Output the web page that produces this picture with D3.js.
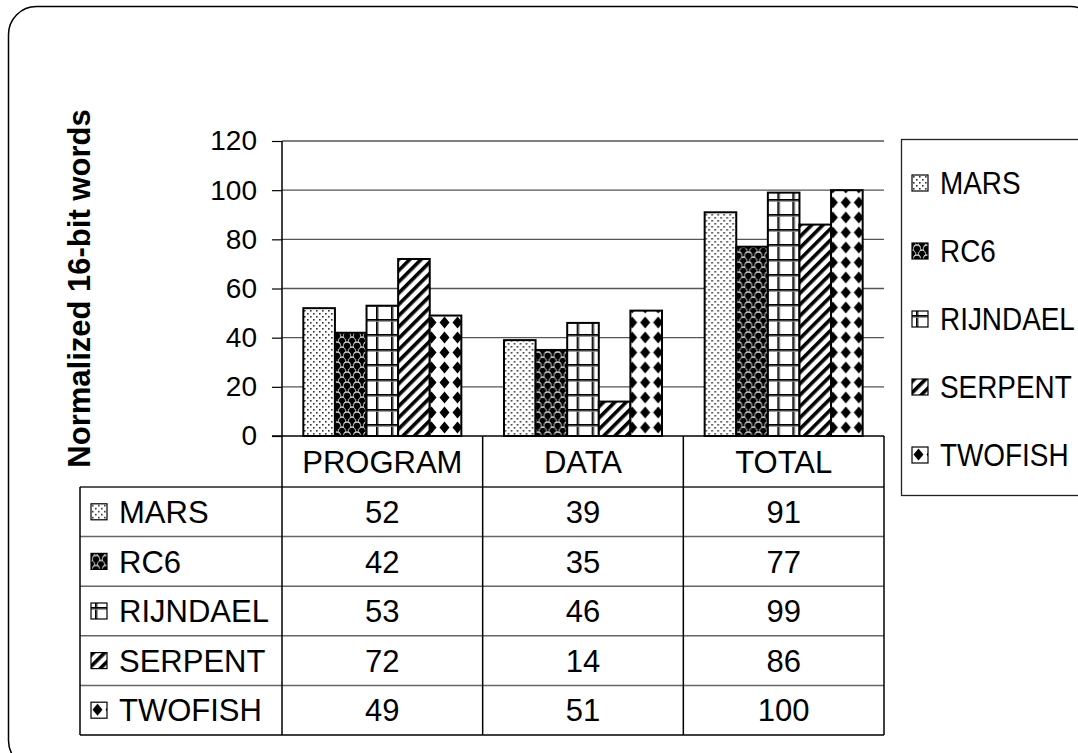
<!DOCTYPE html>
<html>
<head>
<meta charset="utf-8">
<script src="https://cdn.jsdelivr.net/npm/d3@7"></script>
<style>
  html, body { margin: 0; padding: 0; background: #fff; }
  svg { display: block; font-family: "Liberation Sans", Arial, sans-serif; }
</style>
</head>
<body>
<svg id="chart" width="1078" height="753"></svg>
<script>
// ---- data ----
const categories = ["PROGRAM", "DATA", "TOTAL"];
const seriesNames = ["MARS", "RC6", "RIJNDAEL", "SERPENT", "TWOFISH"];
const marsValues = [52, 39, 91];
const rc6Values = [42, 35, 77];
const rijndaelValues = [53, 46, 99];
const serpentValues = [72, 14, 86];
const twofishValues = [49, 51, 100];
const yTicks = [0, 20, 40, 60, 80, 100, 120];
const yTitle = "Normalized 16-bit words";

const seriesValues = [marsValues, rc6Values, rijndaelValues, serpentValues, twofishValues];
const patternIds = ["pMars", "pRc6", "pRij", "pSerp", "pTwo"];

const svg = d3.select("#chart");

// ---- patterns ----
const defs = svg.append("defs");
// MARS: fine dots
{
  const p = defs.append("pattern").attr("id", "pMars").attr("patternUnits", "userSpaceOnUse")
    .attr("width", 6).attr("height", 6);
  p.append("rect").attr("width", 6).attr("height", 6).attr("fill", "#fff");
  p.append("rect").attr("x", 1).attr("y", 1).attr("width", 1.6).attr("height", 1.6).attr("fill", "#333");
  p.append("rect").attr("x", 4).attr("y", 4).attr("width", 1.6).attr("height", 1.6).attr("fill", "#333");
}
// RC6: dark balls
{
  const p = defs.append("pattern").attr("id", "pRc6").attr("patternUnits", "userSpaceOnUse")
    .attr("width", 10).attr("height", 10);
  p.append("rect").attr("width", 10).attr("height", 10).attr("fill", "#111");
  [[0, 0], [10, 0], [0, 10], [10, 10], [5, 5]].forEach(([cx, cy]) => {
    p.append("circle").attr("cx", cx).attr("cy", cy).attr("r", 3.8).attr("fill", "#ccc");
    p.append("circle").attr("cx", cx).attr("cy", cy + 0.9).attr("r", 3.1).attr("fill", "#000");
  });
}
// RIJNDAEL: grid
{
  const p = defs.append("pattern").attr("id", "pRij").attr("patternUnits", "userSpaceOnUse")
    .attr("width", 15).attr("height", 15);
  p.append("rect").attr("width", 15).attr("height", 15).attr("fill", "#fff");
  p.append("rect").attr("x", 4).attr("y", 0).attr("width", 1.8).attr("height", 15).attr("fill", "#000");
  p.append("rect").attr("x", 5.8).attr("y", 0).attr("width", 1).attr("height", 15).attr("fill", "#888");
  p.append("rect").attr("x", 0).attr("y", 4).attr("width", 15).attr("height", 1.8).attr("fill", "#000");
  p.append("rect").attr("x", 0).attr("y", 5.8).attr("width", 15).attr("height", 1).attr("fill", "#888");
}
// SERPENT: diagonal stripes
{
  const p = defs.append("pattern").attr("id", "pSerp").attr("patternUnits", "userSpaceOnUse")
    .attr("width", 8).attr("height", 8).attr("patternTransform", "rotate(45)");
  p.append("rect").attr("width", 8).attr("height", 8).attr("fill", "#fff");
  p.append("rect").attr("x", 0).attr("width", 3.6).attr("height", 8).attr("fill", "#000");
}
// TWOFISH: diamonds
{
  const p = defs.append("pattern").attr("id", "pTwo").attr("patternUnits", "userSpaceOnUse")
    .attr("width", 13).attr("height", 15);
  p.append("rect").attr("width", 13).attr("height", 15).attr("fill", "#fff");
  p.append("path").attr("d", "M6.5,1.5 L11.5,7.5 L6.5,13.5 L1.5,7.5 Z").attr("fill", "#000");
}

// ---- outer rounded frame ----
svg.append("rect").attr("x", 8.5).attr("y", 6.5).attr("width", 1090).attr("height", 762)
  .attr("rx", 28).attr("ry", 28).attr("fill", "none").attr("stroke", "#000").attr("stroke-width", 1.5);

// ---- scales ----
const plotLeft = 282, plotRight = 884, plotTop = 141, plotBottom = 436;
const x0 = d3.scaleBand().domain(categories).range([plotLeft, plotRight]).paddingInner(0).paddingOuter(0);
const x1 = d3.scaleBand().domain(seriesNames).range([0, x0.bandwidth()]).paddingInner(0).paddingOuter(0.675);
const y = d3.scaleLinear().domain([0, 120]).range([plotBottom, plotTop]);

// gridlines
svg.append("g").selectAll("line").data(yTicks.filter(t => t > 0)).join("line")
  .attr("x1", plotLeft).attr("x2", plotRight)
  .attr("y1", d => y(d)).attr("y2", d => y(d))
  .attr("stroke", "#555").attr("stroke-width", 1.3);

// bars
const groups = svg.append("g").selectAll("g").data(categories).join("g")
  .attr("transform", c => `translate(${x0(c)},0)`);
groups.selectAll("rect")
  .data((c, ci) => seriesNames.map((s, si) => ({ s, si, v: seriesValues[si][ci] })))
  .join("rect")
  .attr("x", d => x1(d.s))
  .attr("y", d => y(d.v))
  .attr("width", x1.bandwidth())
  .attr("height", d => y(0) - y(d.v))
  .attr("fill", d => `url(#${patternIds[d.si]})`)
  .attr("stroke", "#000").attr("stroke-width", 2);

// y axis
const yAxis = svg.append("g").attr("transform", `translate(${plotLeft},0)`)
  .call(d3.axisLeft(y).tickValues(yTicks).tickSize(10).tickPadding(15).tickFormat(d3.format("d")));
yAxis.select(".domain").remove();
yAxis.selectAll(".tick line").attr("stroke", "#000").attr("stroke-width", 1.2);
yAxis.selectAll(".tick text").attr("font-size", 28).attr("fill", "#000")
  .attr("font-family", "'Liberation Sans', Arial, sans-serif");

// y axis title
svg.append("text")
  .attr("transform", `translate(90,${(plotTop + plotBottom) / 2}) rotate(-90)`)
  .attr("text-anchor", "middle")
  .attr("font-size", 31).attr("font-weight", "bold").attr("fill", "#000")
  .text(yTitle);

// ---- data table ----
const tableLeft = 80, headerBottom = 487, rowH = 49.6, tableBottom = headerBottom + rowH * seriesNames.length;
const tbl = svg.append("g");
tbl.selectAll("line.row").data(d3.range(seriesNames.length)).join("line")
  .attr("class", "row")
  .attr("x1", tableLeft).attr("x2", plotRight)
  .attr("y1", i => headerBottom + i * rowH).attr("y2", i => headerBottom + i * rowH)
  .attr("stroke", i => i === 0 ? "#222" : "#666").attr("stroke-width", 1.5);
tbl.append("line").attr("x1", tableLeft).attr("x2", plotRight).attr("y1", tableBottom).attr("y2", tableBottom)
  .attr("stroke", "#000").attr("stroke-width", 1.5);
tbl.append("line").attr("x1", tableLeft).attr("x2", tableLeft).attr("y1", headerBottom).attr("y2", tableBottom)
  .attr("stroke", "#000").attr("stroke-width", 1.5);
const vx = [plotLeft, ...categories.map(c => x0(c) + x0.bandwidth())];
tbl.selectAll("line.col").data(vx).join("line").attr("class", "col")
  .attr("x1", d => d).attr("x2", d => d)
  .attr("y1", (d, i) => i === 0 ? plotTop : plotBottom).attr("y2", tableBottom)
  .attr("stroke", "#000").attr("stroke-width", 1.5);
svg.append("line").attr("x1", plotLeft - 10).attr("x2", plotRight).attr("y1", plotBottom).attr("y2", plotBottom)
  .attr("stroke", "#000").attr("stroke-width", 1.5);
tbl.selectAll("text.hdr").data(categories).join("text").attr("class", "hdr")
  .attr("x", c => x0(c) + x0.bandwidth() / 2).attr("y", (plotBottom + headerBottom) / 2)
  .attr("dy", "0.36em").attr("text-anchor", "middle").attr("font-size", 31).attr("fill", "#000")
  .text(c => c);
seriesNames.forEach((s, si) => {
  const cy = headerBottom + si * rowH + rowH / 2;
  const g = tbl.append("g").attr("transform", `translate(91,${cy - 8})`);
  g.append("rect").attr("width", 16).attr("height", 16)
    .attr("fill", `url(#${patternIds[si]})`).attr("stroke", "#000").attr("stroke-width", 1.2);
  tbl.append("text").attr("x", 119).attr("y", cy).attr("dy", "0.36em")
    .attr("font-size", 31).attr("fill", "#000").text(s);
  categories.forEach((c, ci) => {
    tbl.append("text").attr("x", x0(c) + x0.bandwidth() / 2).attr("y", cy).attr("dy", "0.36em")
      .attr("text-anchor", "middle").attr("font-size", 31).attr("fill", "#000")
      .text(seriesValues[si][ci]);
  });
});

// ---- legend ----
const legend = svg.append("g");
legend.append("rect").attr("x", 901.5).attr("y", 139.5).attr("width", 220).attr("height", 356)
  .attr("fill", "#fff").attr("stroke", "#222").attr("stroke-width", 1.3);
const legendY = d3.scalePoint().domain(seriesNames).range([183, 455]);
seriesNames.forEach((s, si) => {
  const cy = legendY(s);
  const g = legend.append("g").attr("transform", `translate(912,${cy - 8})`);
  g.append("rect").attr("width", 16).attr("height", 16)
    .attr("fill", `url(#${patternIds[si]})`).attr("stroke", "#000").attr("stroke-width", 1.2);
  legend.append("text").attr("transform", `translate(940,${cy}) scale(0.9,1)`).attr("dy", "0.36em")
    .attr("font-size", 31).attr("fill", "#000").text(s);
});
</script>
</body>
</html>
